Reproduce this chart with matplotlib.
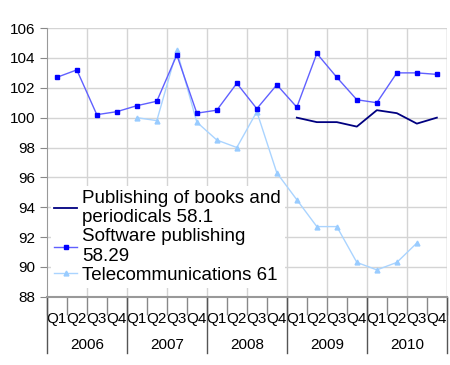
import numpy as np
import matplotlib
matplotlib.use("Agg")
import matplotlib.pyplot as plt

plt.rcParams['font.family'] = ['Liberation Sans', 'DejaVu Sans']

years = ['2006', '2007', '2008', '2009', '2010']
quarters = ['Q1', 'Q2', 'Q3', 'Q4'] * 5

# index values (nan = no data)
books = [np.nan] * 12 + [100.0, 99.7, 99.7, 99.4, 100.5, 100.3, 99.6, 100.0]
software = [102.7, 103.2, 100.2, 100.4, 100.8, 101.1, 104.2, 100.3, 100.5, 102.3,
            100.6, 102.2, 100.7, 104.3, 102.7, 101.2, 101.0, 103.0, 103.0, 102.9]
telecom = [np.nan] * 4 + [100.0, 99.8, 104.5, 99.7, 98.5, 98.0, 100.4, 96.3,
                          94.5, 92.7, 92.7, 90.3, 89.8, 90.3, 91.6, np.nan]

x = np.arange(len(quarters))

fig = plt.figure(figsize=(4.5, 3.65), dpi=100)
ax = fig.add_axes([0.104, 0.187, 0.889, 0.736])

ax.plot(x, books, color='#000080', lw=1.3, label='Publishing of books and\nperiodicals 58.1', zorder=4)
ax.plot(x, software, color='#6060ff', lw=1, marker='s', ms=3.5, mfc='#0000ff', mec='#0000ff',
        label='Software publishing\n58.29', zorder=3)
ax.plot(x, telecom, color='#aad4ff', lw=1, marker='^', ms=3.5, mfc='#99ccff', mec='#99ccff',
        label='Telecommunications 61', zorder=2)

ax.set_xlim(-0.5, 19.5)
ax.set_ylim(88, 106)
ax.set_yticks(np.arange(88, 107, 2))
ax.yaxis.grid(True, color='#d4d4d4', lw=1)
for b in np.arange(1.5, 20, 2):
    ax.axvline(b, color='#d4d4d4', lw=1, zorder=0)
ax.set_axisbelow(True)

ax.set_xticks(x)
ax.set_xticklabels(quarters, fontsize=11)
ax.set_xticks(np.arange(-0.5, 20, 1), minor=True)
ax.tick_params(axis='x', which='major', length=0, pad=11)
ax.tick_params(axis='x', which='minor', length=13, color='#888888', width=1)
ax.tick_params(axis='y', labelsize=11, length=5, color='#888888')

for s in ['top', 'right']:
    ax.spines[s].set_visible(False)
ax.spines['left'].set_color('#999999')
ax.spines['bottom'].set_color('#999999')
ax.spines['bottom'].set_linewidth(1.5)
ax.axvline(19.5, color='#d4d4d4', lw=1)

trans = ax.get_xaxis_transform()
for i, yr in enumerate(years):
    ax.text(4 * i + 1.5, -0.18, yr, transform=trans, ha='center', va='center', fontsize=11)
for b in np.arange(-0.5, 20, 4):
    ax.plot([b, b], [0, -0.21], transform=trans, color='#555555', lw=1, clip_on=False)

leg = ax.legend(loc='lower left', bbox_to_anchor=(0.0, 0.02), fontsize=13.5, frameon=True,
                fancybox=False, edgecolor='none', framealpha=1, handlelength=1.2,
                handletextpad=0.3, borderpad=0.2, labelspacing=0.1, borderaxespad=0.2)

fig.savefig('out.png', dpi=100)
